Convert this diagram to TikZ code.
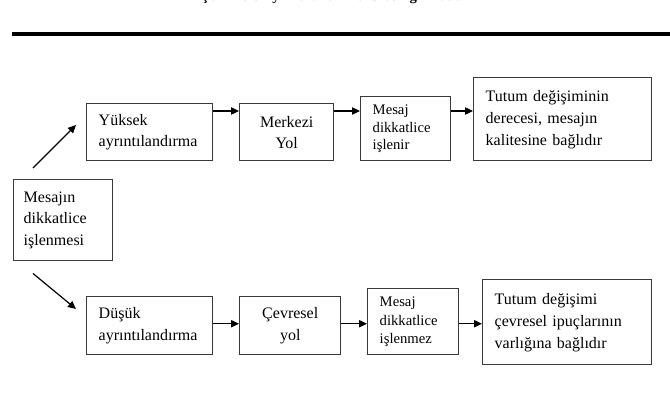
\documentclass[tikz,border=0pt]{standalone}
\usepackage{fontspec}
\setmainfont{Liberation Serif}
\usetikzlibrary{arrows.meta,positioning,calc}
\definecolor{frame}{HTML}{3A3A3A}

\tikzset{
  box/.style={draw=frame, line width=1.1pt, anchor=north west, inner ysep=0pt,
    inner xsep=9pt, align=left, font=\fontsize{12}{16}\selectfont},
  smallbox/.style={box, font=\fontsize{11}{13}\selectfont},
  arr/.style={-{Triangle[length=6pt,width=5.5pt]}, line width=0.9pt}
}

\begin{document}
\begin{tikzpicture}[x=0.75pt,y=-0.75pt]
  \useasboundingbox (0,0) rectangle (670,407);

  % Caption, cut by the page edge
  \begin{scope}
    \clip (0,0) rectangle (670,407);
    \node[font=\bfseries\fontsize{11}{13}\selectfont, anchor=base] (caption) at (335,1)
      {Şekil 2.4. Ayrıntılandırma Olasılığı Modeli};
  \end{scope}
  \draw[line width=3pt] (12,33.5) -- (670,33.5);

  % Start
  \node[box, inner xsep=7.5pt, text width=59.25pt, minimum height=60.75pt] (mesajin)
    at (13,179) {Mesajın\\dikkatlice\\işlenmesi};

  % Upper route
  \node[box, text width=76.5pt, minimum height=42.75pt] (yuksek)
    at (86,103) {Yüksek\\ayrıntılandırma};
  \node[box, align=center, text width=52.5pt, minimum height=42.75pt] (merkezi)
    at (239,103) {Merkezi\\Yol};
  \node[smallbox, text width=49.5pt, minimum height=48pt] (isleniyor)
    at (360,96) {Mesaj\\dikkatlice\\işlenir};
  \node[box, font=\fontsize{12}{16.5}\selectfont, text width=115.5pt, minimum height=62.25pt] (kalite)
    at (473,77) {Tutum değişiminin\\derecesi, mesajın\\kalitesine bağlıdır};

  % Lower route
  \node[box, text width=76.5pt, minimum height=43.5pt] (dusuk)
    at (86,296) {Düşük\\ayrıntılandırma};
  \node[box, align=center, text width=57.75pt, minimum height=43.5pt] (cevresel)
    at (239,296) {Çevresel\\yol};
  \node[smallbox, font=\fontsize{11}{14}\selectfont, text width=50.25pt, minimum height=49.5pt] (islenmez)
    at (367,288) {Mesaj\\dikkatlice\\işlenmez};
  \node[box, font=\fontsize{12}{16.5}\selectfont, text width=108.75pt, minimum height=63.75pt] (ipucu)
    at (482,279) {Tutum değişimi\\çevresel ipuçlarının\\varlığına bağlıdır};

  % Arrows
  \draw[arr] ([shift={(20,-11)}]mesajin.north west) -- ([shift={(-10,22)}]yuksek.north west);
  \draw[arr] ([shift={(20,12)}]mesajin.south west) -- ([shift={(-10,13)}]dusuk.north west);

  \coordinate (toprow) at ([shift={(0,8)}]yuksek.north);
  \draw[arr] (yuksek.east |- toprow) -- (merkezi.west |- toprow);
  \draw[arr] (merkezi.east |- toprow) -- (isleniyor.west |- toprow);
  \draw[arr] (isleniyor.east |- toprow) -- (kalite.west |- toprow);

  \coordinate (botrow) at ([shift={(0,-2)}]dusuk.east);
  \draw[arr] (dusuk.east |- botrow) -- (cevresel.west |- botrow);
  \draw[arr] (cevresel.east |- botrow) -- (islenmez.west |- botrow);
  \draw[arr] (islenmez.east |- botrow) -- (ipucu.west |- botrow);
\end{tikzpicture}
\end{document}
